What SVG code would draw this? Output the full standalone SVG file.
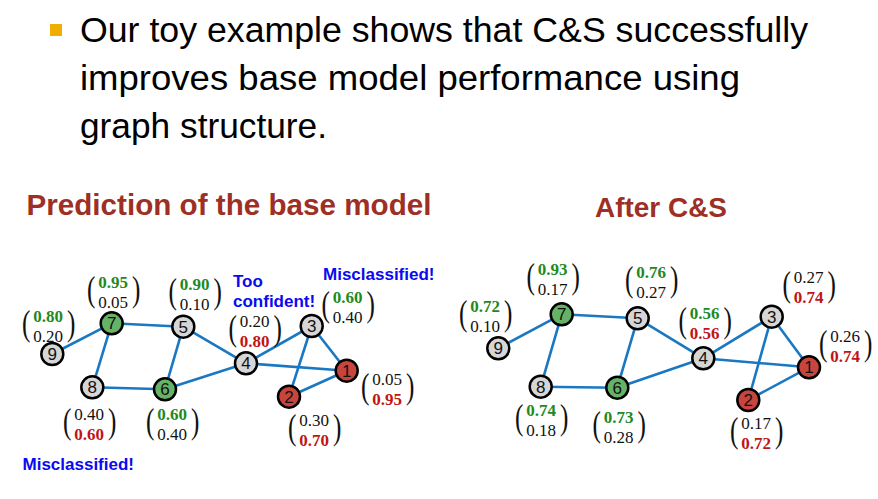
<svg xmlns="http://www.w3.org/2000/svg" width="878" height="499" viewBox="0 0 878 499">
<style>
.bul{font-family:"Liberation Sans",Arial,sans-serif;font-size:35.5px;fill:#000}
.ttl{font-family:"Liberation Sans",Arial,sans-serif;font-weight:bold;fill:#9E2F25}
.note{font-family:"Liberation Sans",Arial,sans-serif;font-weight:bold;font-size:17px;fill:#0A0AF0}
.num{font-family:"Liberation Serif","Times New Roman",serif;font-size:17px;text-anchor:middle;fill:#111}
.g{fill:#1E8A1E;font-weight:bold}
.r{fill:#C01515;font-weight:bold}
.par{font-family:"Liberation Serif","Times New Roman",serif;font-size:36px;fill:#111}
.edge{stroke:#1A78C2;stroke-width:2.6;fill:none}
.nd{stroke:#000;stroke-width:2.5}
.gy{fill:#D6D6D6}
.gr{fill:#66B266}
.rd{fill:#C8453E}
.lab{font-family:"Liberation Sans",Arial,sans-serif;font-size:17px;text-anchor:middle;fill:#111}
</style>
<rect x="0" y="0" width="878" height="499" fill="#fff"/>
<g id="header">
<rect x="50" y="24" width="12" height="12" fill="#F0AE00"/>
<text class="bul" x="80" y="42" textLength="728" lengthAdjust="spacingAndGlyphs">Our toy example shows that C&amp;S successfully</text>
<text class="bul" x="80" y="90" textLength="660" lengthAdjust="spacingAndGlyphs">improves base model performance using</text>
<text class="bul" x="80" y="138" textLength="247" lengthAdjust="spacingAndGlyphs">graph structure.</text>
</g>
<g id="titles">
<text class="ttl" x="26.5" y="215" font-size="29.5" textLength="405" lengthAdjust="spacingAndGlyphs">Prediction of the base model</text>
<text class="ttl" x="595" y="216.5" font-size="28.5" textLength="132" lengthAdjust="spacingAndGlyphs">After C&amp;S</text>
</g>
<g id="connectors">
<line class="edge" x1="52.3" y1="354" x2="111.7" y2="323.3"/>
<line class="edge" x1="111.7" y1="323.3" x2="183.3" y2="326.7"/>
<line class="edge" x1="111.7" y1="323.3" x2="92.3" y2="387.3"/>
<line class="edge" x1="92.3" y1="387.3" x2="165" y2="389.3"/>
<line class="edge" x1="165" y1="389.3" x2="183.3" y2="326.7"/>
<line class="edge" x1="183.3" y1="326.7" x2="246" y2="363.3"/>
<line class="edge" x1="165" y1="389.3" x2="246" y2="363.3"/>
<line class="edge" x1="246" y1="363.3" x2="311.7" y2="326"/>
<line class="edge" x1="246" y1="363.3" x2="346.7" y2="370.7"/>
<line class="edge" x1="311.7" y1="326" x2="346.7" y2="370.7"/>
<line class="edge" x1="311.7" y1="326" x2="289" y2="396.7"/>
<line class="edge" x1="289" y1="396.7" x2="346.7" y2="370.7"/>
<line class="edge" x1="498.3" y1="348.3" x2="561.7" y2="314.3"/>
<line class="edge" x1="561.7" y1="314.3" x2="637.7" y2="318.3"/>
<line class="edge" x1="561.7" y1="314.3" x2="540.7" y2="386.7"/>
<line class="edge" x1="540.7" y1="386.7" x2="617.3" y2="387.7"/>
<line class="edge" x1="617.3" y1="387.7" x2="637.7" y2="318.3"/>
<line class="edge" x1="637.7" y1="318.3" x2="703.3" y2="358.3"/>
<line class="edge" x1="617.3" y1="387.7" x2="703.3" y2="358.3"/>
<line class="edge" x1="703.3" y1="358.3" x2="771.7" y2="316.7"/>
<line class="edge" x1="703.3" y1="358.3" x2="809" y2="367.3"/>
<line class="edge" x1="771.7" y1="316.7" x2="809" y2="367.3"/>
<line class="edge" x1="771.7" y1="316.7" x2="748.3" y2="400"/>
<line class="edge" x1="748.3" y1="400" x2="809" y2="367.3"/>
</g>
<!-- Left graph nodes -->
<g id="L1"><circle class="nd rd" cx="346.7" cy="370.7" r="11"/><text class="lab" x="346.7" y="376.8">1</text></g>
<g id="L2"><circle class="nd rd" cx="289" cy="396.7" r="11"/><text class="lab" x="289" y="402.8">2</text></g>
<g id="L3"><circle class="nd gy" cx="311.7" cy="326" r="11"/><text class="lab" x="311.7" y="332.1">3</text></g>
<g id="L4"><circle class="nd gy" cx="246" cy="363.3" r="11"/><text class="lab" x="246" y="369.4">4</text></g>
<g id="L5"><circle class="nd gy" cx="183.3" cy="326.7" r="11"/><text class="lab" x="183.3" y="332.8">5</text></g>
<g id="L6"><circle class="nd gr" cx="165" cy="389.3" r="11"/><text class="lab" x="165" y="395.4">6</text></g>
<g id="L7"><circle class="nd gr" cx="111.7" cy="323.3" r="11"/><text class="lab" x="111.7" y="329.4">7</text></g>
<g id="L8"><circle class="nd gy" cx="92.3" cy="387.3" r="11"/><text class="lab" x="92.3" y="393.4">8</text></g>
<g id="L9"><circle class="nd gy" cx="52.3" cy="354" r="11"/><text class="lab" x="52.3" y="360.1">9</text></g>
<!-- Right graph nodes -->
<g id="R1"><circle class="nd rd" cx="809" cy="367.3" r="11"/><text class="lab" x="809" y="373.4">1</text></g>
<g id="R2"><circle class="nd rd" cx="748.3" cy="400" r="11"/><text class="lab" x="748.3" y="406.1">2</text></g>
<g id="R3"><circle class="nd gy" cx="771.7" cy="316.7" r="11"/><text class="lab" x="771.7" y="322.8">3</text></g>
<g id="R4"><circle class="nd gy" cx="703.3" cy="358.3" r="11"/><text class="lab" x="703.3" y="364.4">4</text></g>
<g id="R5"><circle class="nd gy" cx="637.7" cy="318.3" r="11"/><text class="lab" x="637.7" y="324.4">5</text></g>
<g id="R6"><circle class="nd gr" cx="617.3" cy="387.7" r="11"/><text class="lab" x="617.3" y="393.8">6</text></g>
<g id="R7"><circle class="nd gr" cx="561.7" cy="314.3" r="11"/><text class="lab" x="561.7" y="320.4">7</text></g>
<g id="R8"><circle class="nd gy" cx="540.7" cy="386.7" r="11"/><text class="lab" x="540.7" y="392.8">8</text></g>
<g id="R9"><circle class="nd gy" cx="498.3" cy="348.3" r="11"/><text class="lab" x="498.3" y="354.4">9</text></g>
<!-- Probability vectors -->
<g id="vL7" transform="translate(113,288)"><text class="par" transform="translate(-26,13) scale(0.7,1)">(</text><text class="par" transform="translate(19,13) scale(0.7,1)">)</text><text class="num g" x="0" y="0">0.95</text><text class="num" x="0" y="20">0.05</text></g>
<g id="vL9" transform="translate(48,321.5)"><text class="par" transform="translate(-26,13) scale(0.7,1)">(</text><text class="par" transform="translate(19,13) scale(0.7,1)">)</text><text class="num g" x="0" y="0">0.80</text><text class="num" x="0" y="20">0.20</text></g>
<g id="vL5" transform="translate(194.5,290)"><text class="par" transform="translate(-26,13) scale(0.7,1)">(</text><text class="par" transform="translate(19,13) scale(0.7,1)">)</text><text class="num g" x="0" y="0">0.90</text><text class="num" x="0" y="20">0.10</text></g>
<g id="vL8" transform="translate(89,420)"><text class="par" transform="translate(-26,13) scale(0.7,1)">(</text><text class="par" transform="translate(19,13) scale(0.7,1)">)</text><text class="num" x="0" y="0">0.40</text><text class="num r" x="0" y="20">0.60</text></g>
<g id="vL6" transform="translate(172,420)"><text class="par" transform="translate(-26,13) scale(0.7,1)">(</text><text class="par" transform="translate(19,13) scale(0.7,1)">)</text><text class="num g" x="0" y="0">0.60</text><text class="num" x="0" y="20">0.40</text></g>
<g id="vL4" transform="translate(254.5,327)"><text class="par" transform="translate(-26,13) scale(0.7,1)">(</text><text class="par" transform="translate(19,13) scale(0.7,1)">)</text><text class="num" x="0" y="0">0.20</text><text class="num r" x="0" y="20">0.80</text></g>
<g id="vL3" transform="translate(347.5,303)"><text class="par" transform="translate(-26,13) scale(0.7,1)">(</text><text class="par" transform="translate(19,13) scale(0.7,1)">)</text><text class="num g" x="0" y="0">0.60</text><text class="num" x="0" y="20">0.40</text></g>
<g id="vL1" transform="translate(387,385)"><text class="par" transform="translate(-26,13) scale(0.7,1)">(</text><text class="par" transform="translate(19,13) scale(0.7,1)">)</text><text class="num" x="0" y="0">0.05</text><text class="num r" x="0" y="20">0.95</text></g>
<g id="vL2" transform="translate(314,426)"><text class="par" transform="translate(-26,13) scale(0.7,1)">(</text><text class="par" transform="translate(19,13) scale(0.7,1)">)</text><text class="num" x="0" y="0">0.30</text><text class="num r" x="0" y="20">0.70</text></g>
<g id="vR7" transform="translate(552.5,275)"><text class="par" transform="translate(-26,13) scale(0.7,1)">(</text><text class="par" transform="translate(19,13) scale(0.7,1)">)</text><text class="num g" x="0" y="0">0.93</text><text class="num" x="0" y="20">0.17</text></g>
<g id="vR5" transform="translate(651,278)"><text class="par" transform="translate(-26,13) scale(0.7,1)">(</text><text class="par" transform="translate(19,13) scale(0.7,1)">)</text><text class="num g" x="0" y="0">0.76</text><text class="num" x="0" y="20">0.27</text></g>
<g id="vR9" transform="translate(485,311.5)"><text class="par" transform="translate(-26,13) scale(0.7,1)">(</text><text class="par" transform="translate(19,13) scale(0.7,1)">)</text><text class="num g" x="0" y="0">0.72</text><text class="num" x="0" y="20">0.10</text></g>
<g id="vR8" transform="translate(541,416)"><text class="par" transform="translate(-26,13) scale(0.7,1)">(</text><text class="par" transform="translate(19,13) scale(0.7,1)">)</text><text class="num g" x="0" y="0">0.74</text><text class="num" x="0" y="20">0.18</text></g>
<g id="vR6" transform="translate(618.5,423)"><text class="par" transform="translate(-26,13) scale(0.7,1)">(</text><text class="par" transform="translate(19,13) scale(0.7,1)">)</text><text class="num g" x="0" y="0">0.73</text><text class="num" x="0" y="20">0.28</text></g>
<g id="vR4" transform="translate(704.5,318.5)"><text class="par" transform="translate(-26,13) scale(0.7,1)">(</text><text class="par" transform="translate(19,13) scale(0.7,1)">)</text><text class="num g" x="0" y="0">0.56</text><text class="num r" x="0" y="20.5">0.56</text></g>
<g id="vR3" transform="translate(808.5,283)"><text class="par" transform="translate(-26,13) scale(0.7,1)">(</text><text class="par" transform="translate(19,13) scale(0.7,1)">)</text><text class="num" x="0" y="0">0.27</text><text class="num r" x="0" y="20">0.74</text></g>
<g id="vR1" transform="translate(845,342)"><text class="par" transform="translate(-26,13) scale(0.7,1)">(</text><text class="par" transform="translate(19,13) scale(0.7,1)">)</text><text class="num" x="0" y="0">0.26</text><text class="num r" x="0" y="20">0.74</text></g>
<g id="vR2" transform="translate(756,428.5)"><text class="par" transform="translate(-26,13) scale(0.7,1)">(</text><text class="par" transform="translate(19,13) scale(0.7,1)">)</text><text class="num" x="0" y="0">0.17</text><text class="num r" x="0" y="20">0.72</text></g>
<g id="notes">
<text class="note" x="233" y="287">Too</text>
<text class="note" x="233" y="307">confident!</text>
<text class="note" x="323" y="280">Misclassified!</text>
<text class="note" x="22.5" y="470">Misclassified!</text>
</g>
</svg>
